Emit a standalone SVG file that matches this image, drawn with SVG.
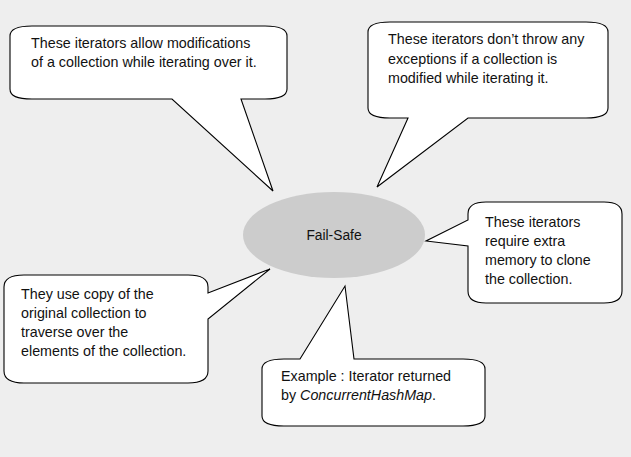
<svg xmlns="http://www.w3.org/2000/svg" width="631" height="457" viewBox="0 0 631 457">
  <style>
    .callout { fill: #ffffff; stroke: #000000; stroke-width: 1.1; stroke-linejoin: miter; }
    .hub { fill: #cccccc; stroke: none; }
    text { font-family: "Liberation Sans", Arial, sans-serif; font-size: 14.3px; fill: #111111; }
    .center { text-anchor: middle; font-size: 13.8px; }
  </style>
  <!-- page background -->
  <rect x="0" y="0" width="631" height="457" fill="#eeeeee"/>

  <g id="hub">
    <ellipse class="hub" cx="334" cy="235" rx="91" ry="43"/>
    <text class="center" x="334" y="240">Fail-Safe</text>
  </g>

  <g id="connectors">
    <!-- callout tails are drawn as part of each callout outline -->
  </g>

  <g id="modifications">
    <path class="callout" d="M 32,26 H 265 C 280,26 287,29 287,36 V 89 C 287,96 280,99 265,99 H 241 L 273,191 L 172,99 H 32 C 17,99 10,96 10,89 V 36 C 10,29 17,26 32,26 Z"/>
    <text x="31" y="48">These iterators allow modifications</text>
    <text x="31" y="67">of a collection while iterating over it.</text>
  </g>

  <g id="no-exceptions">
    <path class="callout" d="M 390,22 H 586 C 601,22 608,25 608,32 V 108 C 608,115 601,118 586,118 H 468 L 377,187 L 408,118 H 390 C 375,118 368,115 368,108 V 32 C 368,25 375,22 390,22 Z"/>
    <text x="388" y="44">These iterators don’t throw any</text>
    <text x="388" y="63.5">exceptions if a collection is</text>
    <text x="388" y="83">modified while iterating it.</text>
  </g>

  <g id="extra-memory">
    <path class="callout" d="M 486,202 H 604 C 616,202 622,206 622,214 V 291 C 622,299 616,303 604,303 H 486 C 474,303 468,299 468,291 V 246 L 426,241 L 468,220 V 214 C 468,206 474,202 486,202 Z"/>
    <text x="485" y="227">These iterators</text>
    <text x="485" y="246">require extra</text>
    <text x="485" y="265">memory to clone</text>
    <text x="485" y="284">the collection.</text>
  </g>

  <g id="copy">
    <path class="callout" d="M 24,275 H 188 C 201,275 208,279 208,287 V 293 L 270,269 L 208,319 V 371 C 208,379 201,383 188,383 H 24 C 11,383 4,379 4,371 V 287 C 4,279 11,275 24,275 Z"/>
    <text x="21" y="299">They use copy of the</text>
    <text x="21" y="318">original collection to</text>
    <text x="21" y="337">traverse over the</text>
    <text x="21" y="356">elements of the collection.</text>
  </g>

  <g id="example">
    <path class="callout" d="M 284,359 H 300 L 345,286 L 354,359 H 463 C 478,359 485,362 485,369 V 416 C 485,423 478,426 463,426 H 284 C 269,426 262,423 262,416 V 369 C 262,362 269,359 284,359 Z"/>
    <text x="281" y="381">Example : Iterator returned</text>
    <text x="281" y="400">by <tspan font-style="italic">ConcurrentHashMap</tspan>.</text>
  </g>
</svg>
